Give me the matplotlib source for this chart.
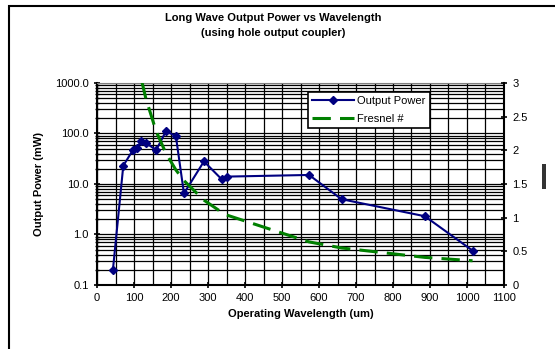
import matplotlib.pyplot as plt
from matplotlib.patches import Rectangle
from matplotlib.ticker import MultipleLocator, LogLocator, FixedLocator, NullFormatter

plt.rcParams['font.family'] = ['Liberation Sans', 'DejaVu Sans']

## Data
wavelength = [43, 71, 97, 108, 120, 132, 160, 186, 213, 235, 289, 337, 350, 573, 661, 886, 1015]
power_mw = [0.2, 23, 47, 52, 72, 65, 47, 110, 90, 6.5, 28, 12.4, 14, 15.1, 5.0, 2.3, 0.48]
fresnel = [8.5, 5.1, 3.8, 3.4, 3.05, 2.77, 2.28, 1.96, 1.71, 1.55, 1.26, 1.08, 1.04, 0.64, 0.55, 0.41, 0.36]

left_ticks = [0.1, 1, 10, 100, 1000]
right_ticks = [0, 0.5, 1, 1.5, 2, 2.5, 3]

fig = plt.figure(figsize=(5.55, 3.49), dpi=100)
ax = fig.add_axes([0.1748, 0.1834, 0.7333, 0.5788])

ax.plot(wavelength, power_mw, color='#000080', marker='D', markersize=4,
        linewidth=1.5, label='Output Power', zorder=5)
ax.set_yscale('log')
ax.set_ylim(0.1, 1000)
ax.set_xlim(0, 1100)
ax.xaxis.set_major_locator(MultipleLocator(100))
ax.xaxis.set_minor_locator(MultipleLocator(50))
ax.yaxis.set_major_locator(FixedLocator(left_ticks))
ax.yaxis.set_minor_locator(LogLocator(base=10, subs=range(2, 10)))
ax.yaxis.set_minor_formatter(NullFormatter())
ax.set_yticklabels(['%.1f' % v for v in left_ticks])
ax.grid(True, which='both', color='black', linewidth=0.9)
ax.set_axisbelow(True)
ax.tick_params(axis='both', which='major', direction='inout', length=5, width=1.2, labelsize=8)
ax.tick_params(axis='y', which='minor', direction='inout', length=3, width=1)
ax.tick_params(axis='x', which='minor', length=0)
for s in ['left', 'bottom']:
    ax.spines[s].set_linewidth(1.5)
ax.spines['top'].set_color('gray')
ax.spines['right'].set_visible(False)

ax.set_xlabel('Operating Wavelength (um)', fontsize=8, fontweight='bold', labelpad=4)
ax.set_ylabel('Output Power (mW)', fontsize=8, fontweight='bold', labelpad=8)

ax2 = ax.twinx()
ax2.plot(wavelength, fresnel, color='#008000', linestyle=(0, (6, 3)),
         linewidth=2.2, label='Fresnel #')
ax2.set_ylim(0, 3)
ax2.set_yticks(right_ticks)
ax2.set_yticklabels(['0', '0.5', '1', '1.5', '2', '2.5', '3'])
ax2.tick_params(axis='y', direction='inout', length=5, width=1.2, labelsize=8)
ax2.spines['right'].set_linewidth(1.5)
ax2.spines['top'].set_visible(False)
ax2.spines['left'].set_visible(False)
ax2.spines['bottom'].set_visible(False)

h1, l1 = ax.get_legend_handles_labels()
h2, l2 = ax2.get_legend_handles_labels()
leg = ax2.legend(h1 + h2, l1 + l2, loc='upper left', bbox_to_anchor=(0.518, 0.955),
                 fontsize=8, frameon=True, fancybox=False, framealpha=1,
                 edgecolor='black', handlelength=3.8, borderpad=0.35,
                 labelspacing=0.75, handletextpad=0.3, borderaxespad=0)
leg.get_frame().set_linewidth(1.2)
leg.set_zorder(10)

fig.text(0.493, 0.948, 'Long Wave Output Power vs Wavelength', ha='center', va='center',
         fontsize=8, fontweight='bold')
fig.text(0.493, 0.905, '(using hole output coupler)', ha='center', va='center',
         fontsize=8, fontweight='bold')

# outer chart border, cropped on right and bottom
fig.patches.append(Rectangle((9 / 555, -0.2), 1.2, 1.2 - 6 / 349,
                             transform=fig.transFigure, fill=False,
                             edgecolor='black', linewidth=1.5))
# small clipped label block on the right
fig.patches.append(Rectangle((542 / 555, 1 - 189 / 349), 3.5 / 555, 25 / 349,
                             transform=fig.transFigure, facecolor='#333333',
                             edgecolor='none'))

fig.savefig('out.png', dpi=100)
